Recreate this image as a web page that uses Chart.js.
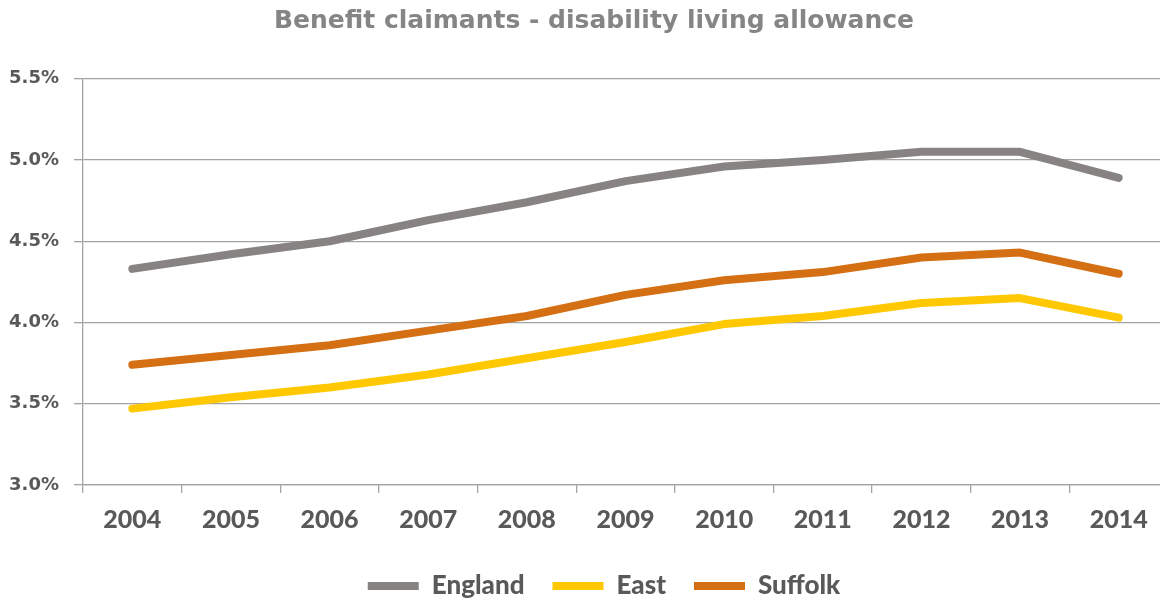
<!DOCTYPE html>
<html lang="en">
<head>
<meta charset="utf-8">
<title>Benefit claimants - disability living allowance</title>
<script src="https://cdn.jsdelivr.net/npm/chart.js@4.4.1/dist/chart.umd.min.js"></script>
<style>
  html, body {
    margin: 0;
    padding: 0;
    overflow: hidden;
    background: #fff;
  }
  .chart-wrap {
    position: absolute;
    left: 0;
    top: 0;
    width: 1168px;
    height: 599px;
  }
</style>
</head>
<body>
<div class="chart-wrap">
  <canvas id="dlaChart"></canvas>
</div>
<script>
// DLA claimants as a share of the population, by year
const years = ["2004", "2005", "2006", "2007", "2008", "2009", "2010", "2011", "2012", "2013", "2014"];
const england = [4.33, 4.42, 4.50, 4.63, 4.74, 4.87, 4.96, 5.00, 5.05, 5.05, 4.89];
const east = [3.47, 3.54, 3.60, 3.68, 3.78, 3.88, 3.99, 4.04, 4.12, 4.15, 4.03];
const suffolk = [3.74, 3.80, 3.86, 3.95, 4.04, 4.17, 4.26, 4.31, 4.40, 4.43, 4.30];
const yTicks = [3.0, 3.5, 4.0, 4.5, 5.0, 5.5];

const FONT = "Lato, 'Open Sans', sans-serif";
const TITLE_FONT = "'DejaVu Sans', sans-serif";
const LABEL_GREY = "#595959";
const GRID_GREY = "#a3a3a3";

document.addEventListener("DOMContentLoaded", () => {
  const ctx = document.getElementById("dlaChart").getContext("2d");

  // title and legend sit a little right of the canvas centre
  const nudge = {
    id: "nudge",
    afterLayout(chart) {
      const t = chart.titleBlock;
      if (t) {
        t.left += 10;
        t.right += 10;
      }
      const lg = chart.legend;
      if (lg) {
        lg.left += 20;
        lg.right += 20;
        lg.top += 10;
        lg.bottom += 10;
      }
    },
  };

  function series(label, data, color) {
    return {
      label,
      data,
      borderColor: color,
      backgroundColor: color,
      borderWidth: 8,
      borderCapStyle: "round",
      borderJoinStyle: "round",
      pointRadius: 0,
      pointHoverRadius: 0,
      tension: 0,
      fill: false,
    };
  }

  new Chart(ctx, {
    type: "line",
    data: {
      labels: years,
      datasets: [
        series("England", england, "#878383"),
        series("East", east, "#ffc800"),
        series("Suffolk", suffolk, "#d46f14"),
      ],
    },
    plugins: [nudge],
    options: {
      responsive: true,
      maintainAspectRatio: false,
      animation: false,
      layout: { padding: 0 },
      plugins: {
        title: {
          display: true,
          text: "Benefit claimants - disability living allowance",
          color: "#858585",
          font: { family: TITLE_FONT, size: 25, weight: "bold", lineHeight: 1.2 },
          padding: { top: 6, bottom: 42.7 },
        },
        legend: {
          position: "bottom",
          labels: {
            usePointStyle: true,
            pointStyle: "line",
            pointStyleWidth: 51,
            padding: 28,
            color: LABEL_GREY,
            font: { family: FONT, size: 26, weight: "900" },
          },
        },
        tooltip: { enabled: false },
      },
      scales: {
        x: {
          offset: true,
          afterFit: (scale) => {
            scale.height = 50;
          },
          grid: {
            offset: true,
            drawOnChartArea: false,
            drawTicks: true,
            tickLength: 8,
            color: GRID_GREY,
            lineWidth: 1.3,
          },
          border: { display: true, color: GRID_GREY, width: 1.3 },
          ticks: {
            color: LABEL_GREY,
            padding: 12,
            maxRotation: 0,
            font: { family: FONT, size: 25, weight: "900" },
          },
        },
        y: {
          min: yTicks[0],
          max: yTicks[yTicks.length - 1],
          afterFit: (scale) => {
            scale.width = 83;
          },
          afterBuildTicks: (scale) => {
            scale.ticks = yTicks.map((v) => ({ value: v }));
          },
          grid: {
            color: GRID_GREY,
            lineWidth: 1.3,
            drawTicks: true,
            tickLength: 9,
          },
          border: { display: true, color: GRID_GREY, width: 1.3 },
          ticks: {
            color: LABEL_GREY,
            padding: 15,
            font: { family: TITLE_FONT, size: 18, weight: "bold" },
            callback: (v) => Number(v).toFixed(1) + "%",
          },
        },
      },
    },
  });
});
</script>
</body>
</html>
